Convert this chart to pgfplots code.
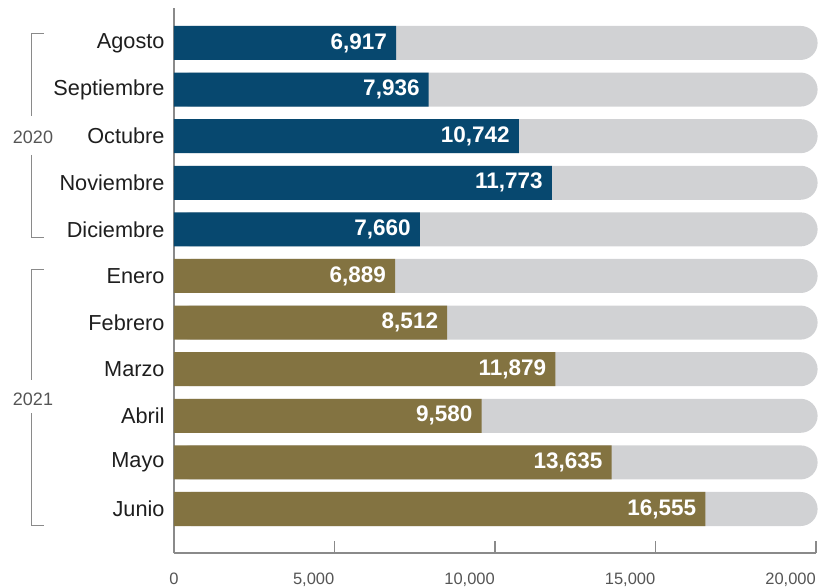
\documentclass[border=0pt]{standalone}
\usepackage{pgfplots}
\pgfplotsset{compat=1.18}
\usepackage{fontspec}
\setmainfont{Liberation Sans}
\definecolor{cblue}{HTML}{07486F}
\definecolor{colive}{HTML}{837341}
\definecolor{cgrey}{HTML}{D1D2D4}
\definecolor{caxis}{HTML}{8A8A8A}
\definecolor{ctick}{HTML}{555555}
\definecolor{clab}{HTML}{1E1E1E}
\begin{document}
\begin{tikzpicture}
\useasboundingbox (-174pt,-34pt) rectangle (647pt,553pt);
\begin{axis}[
  name=ax,
  at={(0pt,0pt)}, anchor=south west,
  scale only axis,
  width=642pt, height=545pt,
  xmin=0, xmax=20000,
  ymin=0.056, ymax=11.75,
  clip=false,
  axis x line*=bottom,
  axis y line*=left,
  axis line style={draw=caxis, line width=1.2pt},
  xtick={5000,10000,15000,20000},
  extra x ticks={0},
  extra x tick style={xticklabel style={anchor=north, xshift=0pt}},
  xticklabel style={anchor=north east, inner sep=0pt, xshift=0pt, yshift=-20pt, text=ctick, font=\fontsize{16.5}{19}\selectfont},
  tick align=inside,
  major tick length=12pt,
  tick style={draw=caxis, line width=1.2pt},
  /pgf/number format/.cd, fixed, precision=0, 1000 sep={,}, assume math mode=true,
  /pgfplots/.cd,
  ytick={1,2,3,4,5,6,7,8,9,10,11},
  yticklabels={Junio,Mayo,Abril,Marzo,Febrero,Enero,Diciembre,Noviembre,Octubre,Septiembre,Agosto},
  yticklabel style={text=clab, font=\fontsize{21.7}{26}\selectfont, xshift=-6pt},
  ytick style={draw=none},
  bar width=0.73,
  scaled x ticks=false,
]
\addplot[xbar, bar shift=0pt, fill=cgrey, draw=none, rounded corners=17pt] coordinates {
  (20050,1) (20050,2) (20050,3) (20050,4) (20050,5) (20050,6) (20050,7) (20050,8) (20050,9) (20050,10) (20050,11)
};
\addplot[xbar, bar shift=0pt, fill=colive, draw=none,
  nodes near coords, point meta=x,
  nodes near coords style={anchor=east, inner sep=0pt, xshift=-9pt, text=white, font=\bfseries\fontsize{22.5}{26}\selectfont,
    /pgf/number format/.cd, fixed, precision=0, 1000 sep={,}, assume math mode=true}]
  coordinates {(16555,1) (13635,2) (9580,3) (11879,4) (8512,5) (6889,6)};
\addplot[xbar, bar shift=0pt, fill=cblue, draw=none,
  nodes near coords, point meta=x,
  nodes near coords style={anchor=east, inner sep=0pt, xshift=-9pt, text=white, font=\bfseries\fontsize{22.5}{26}\selectfont,
    /pgf/number format/.cd, fixed, precision=0, 1000 sep={,}, assume math mode=true}]
  coordinates {(7660,7) (11773,8) (10742,9) (7936,10) (6917,11)};
\end{axis}
% year brackets
\begin{scope}[draw=caxis, line width=1pt]
\draw ([xshift=-130pt,yshift=519pt]ax.south west) -- ([xshift=-142pt,yshift=519pt]ax.south west) -- ([xshift=-142pt,yshift=437pt]ax.south west);
\draw ([xshift=-142pt,yshift=398pt]ax.south west) -- ([xshift=-142pt,yshift=315pt]ax.south west) -- ([xshift=-130pt,yshift=315pt]ax.south west);
\draw ([xshift=-130pt,yshift=284pt]ax.south west) -- ([xshift=-142pt,yshift=284pt]ax.south west) -- ([xshift=-142pt,yshift=173pt]ax.south west);
\draw ([xshift=-142pt,yshift=140pt]ax.south west) -- ([xshift=-142pt,yshift=28pt]ax.south west) -- ([xshift=-130pt,yshift=28pt]ax.south west);
\end{scope}
\node[text=ctick, font=\fontsize{18}{21}\selectfont, inner sep=0pt] at ([xshift=-141pt,yshift=416pt]ax.south west) {2020};
\node[text=ctick, font=\fontsize{18}{21}\selectfont, inner sep=0pt] at ([xshift=-141pt,yshift=154pt]ax.south west) {2021};
\end{tikzpicture}
\end{document}
